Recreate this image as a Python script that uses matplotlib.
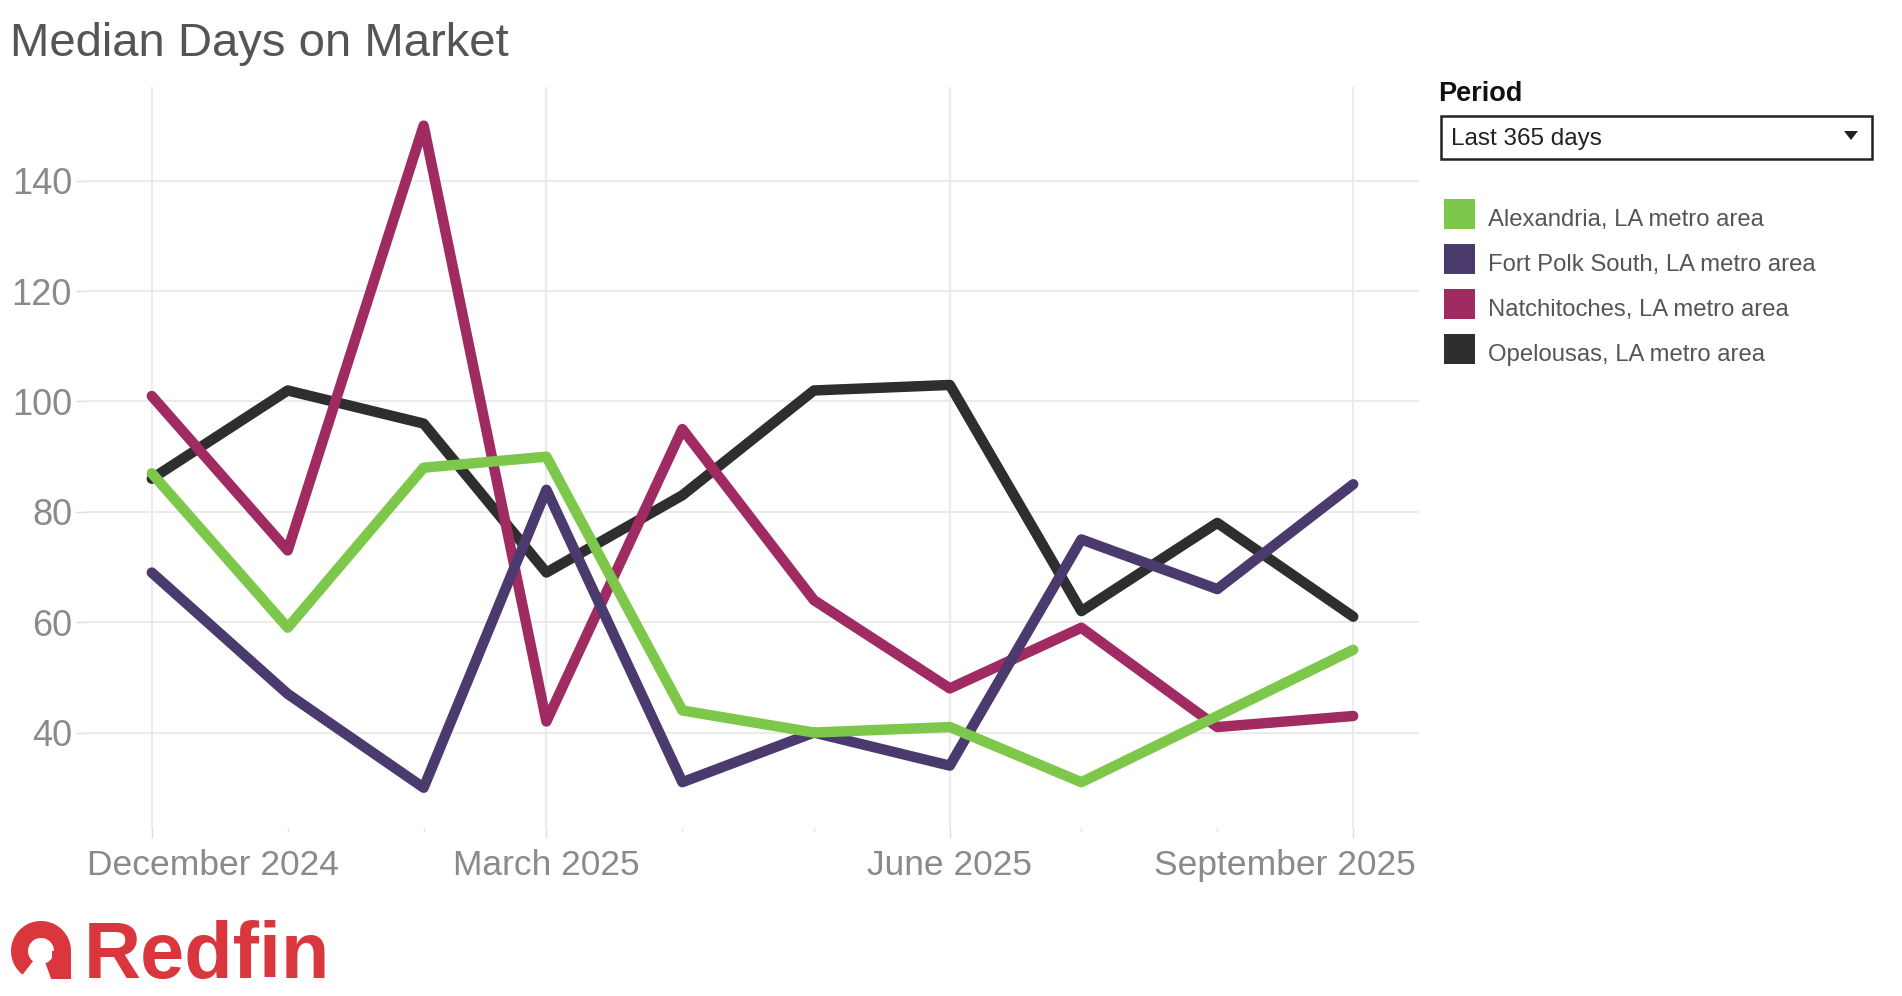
import matplotlib
matplotlib.use("Agg")
import matplotlib.pyplot as plt
import matplotlib.transforms as mtransforms
from matplotlib.patches import Rectangle, Wedge, Polygon
import datetime as dt
from matplotlib import font_manager

months = ["2024-12-01", "2025-01-01", "2025-02-01", "2025-03-01", "2025-04-01",
          "2025-05-01", "2025-06-01", "2025-07-01", "2025-08-01", "2025-09-01"]
alexandria = [87, 59, 88, 90, 44, 40, 41, 31, 43, 55]
fort_polk = [69, 47, 30, 84, 31, 40, 34, 75, 66, 85]
natchitoches = [101, 73, 150, 42, 95, 64, 48, 59, 41, 43]
opelousas = [86, 102, 96, 69, 83, 102, 103, 62, 78, 61]
series_names = ["Alexandria, LA metro area", "Fort Polk South, LA metro area",
                "Natchitoches, LA metro area", "Opelousas, LA metro area"]
colors = ["#7dc84a", "#4b3a6e", "#a02a62", "#2e2e2e"]
yticks = [40, 60, 80, 100, 120, 140]
xtick_labels = ["December 2024", "March 2025", "June 2025", "September 2025"]
xtick_dates = ["2024-12-01", "2025-03-01", "2025-06-01", "2025-09-01"]

avail = {f.name for f in font_manager.fontManager.ttflist}
base_font = "Liberation Sans" if "Liberation Sans" in avail else "DejaVu Sans"
plt.rcParams["font.family"] = [base_font, "DejaVu Sans"]

dates = [dt.datetime.strptime(d, "%Y-%m-%d") for d in months]
xdates = [dt.datetime.strptime(d, "%Y-%m-%d") for d in xtick_dates]

W, H = 1902, 996
fig = plt.figure(figsize=(W / 100, H / 100), dpi=100)
ax = fig.add_axes([86 / W, 1 - 828 / H, (1419 - 86) / W, (828 - 87) / H])

data = [alexandria, fort_polk, natchitoches, opelousas]
for i in [3, 2, 1, 0]:
    ax.plot(dates, data[i], color=colors[i], lw=7.5, solid_capstyle="round",
            solid_joinstyle="round", zorder=3)

ax.set_xlim(dates[0] - dt.timedelta(days=15), dates[-1] + dt.timedelta(days=15))
ax.set_ylim(22.7, 157)

for s in ax.spines.values():
    s.set_visible(False)

ax.set_yticks(yticks)
ax.set_yticklabels([str(v) for v in yticks])
ax.yaxis.grid(True, color="#e8e8e8", lw=1.2)
ax.set_xticks(xdates)
ax.set_xticks(dates, minor=True)
ax.set_xticklabels(xtick_labels)
ax.xaxis.grid(True, which="major", color="#e8e8e8", lw=1.2)
ax.tick_params(axis="y", length=7, width=1, color="#dddddd", labelsize=26,
               labelcolor="#8a8a8a", pad=3)
ax.tick_params(axis="x", which="major", length=7, width=1, color="#dddddd",
               labelsize=25.5, labelcolor="#8a8a8a", pad=8)
ax.tick_params(axis="x", which="minor", length=2.5, width=1, color="#dddddd")
labels = ax.get_xticklabels()
labels[0].set_horizontalalignment("left")
labels[-1].set_horizontalalignment("right")
labels[0].set_transform(labels[0].get_transform() + mtransforms.ScaledTranslation(-65 / 100, 0, fig.dpi_scale_trans))
labels[-1].set_transform(labels[-1].get_transform() + mtransforms.ScaledTranslation(63 / 100, 0, fig.dpi_scale_trans))

# title
fig.text(10 / W, 1 - 44 / H, "Median Days on Market", fontsize=34, color="#555555",
         va="center", ha="left")

# Period selector
fig.text(1438 / W, 1 - 94 / H, "Period", fontsize=19.5, fontweight="bold", color="#111111",
         va="center", ha="left")
fig.add_artist(Rectangle((1441 / W, 1 - 159 / H), (1872 - 1441) / W, (159 - 116) / H,
                         transform=fig.transFigure, fill=False, ec="#222222", lw=1.8))
fig.text(1451 / W, 1 - 139 / H, "Last 365 days", fontsize=17.5, color="#222222",
         va="center", ha="left")
fig.add_artist(Polygon([[1844 / W, 1 - 131 / H], [1858 / W, 1 - 131 / H], [1851 / W, 1 - 140 / H]],
                       closed=True, transform=fig.transFigure, fc="#222222", ec="none"))

# legend
for k, (name, c) in enumerate(zip(series_names, colors)):
    y0 = 199 + 45 * k
    fig.add_artist(Rectangle((1444 / W, 1 - (y0 + 30) / H), 31 / W, 30 / H,
                             transform=fig.transFigure, fc=c, ec="none"))
    fig.text(1488 / W, 1 - (y0 + 21) / H, name, fontsize=17.2, color="#555555",
             va="center", ha="left")

# Redfin logo (pixel coordinates, y measured from the top)
red = "#d9363e"
ax_logo = fig.add_axes([0, 0, 1, 1], facecolor="none")
ax_logo.set_xlim(0, W)
ax_logo.set_ylim(0, H)
ax_logo.axis("off")
cx, cy = 41, H - 951
r_out, r_in = 30, 13
ax_logo.add_patch(Wedge((cx, cy), r_out, -70, 232, width=r_out - r_in, fc=red, ec="none"))
ax_logo.add_patch(Rectangle((cx + r_in - 2, H - 979), r_out - r_in + 2, 979 - 951, fc=red, ec="none"))
fig.text(84 / W, 1 - 957 / H, "Redfin", fontsize=57, fontweight="bold", color=red,
         va="center", ha="left")

fig.savefig("out.png", dpi=100)
